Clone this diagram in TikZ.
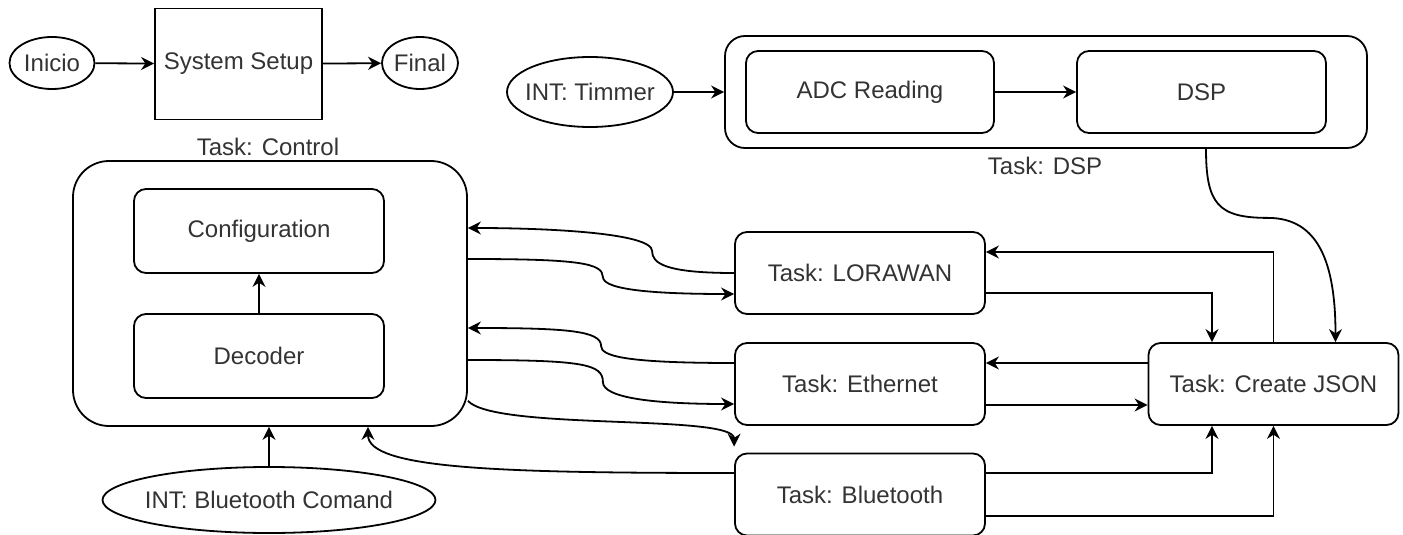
\documentclass[tikz,border=0pt]{standalone}
\usepackage{fontspec}
\setmainfont{Liberation Sans}
\usetikzlibrary{shapes.geometric, arrows.meta}

\newcommand{\ztxt}[1]{\makebox[0pt]{#1}}

\tikzset{
  every node/.style={font=\fontsize{12}{14}\selectfont, text=black!80},
  blk/.style={draw, rounded corners=6pt, minimum width=125pt, minimum height=41pt},
  oval/.style={draw, ellipse, inner sep=0pt},
  con/.style={-{Stealth[length=6.5pt,width=6.5pt]}}
}

\begin{document}
\begin{tikzpicture}[x=0.5pt,y=-0.5pt,line width=0.9pt]
  \useasboundingbox (0,0) rectangle (1403,535);

  % arranque
  \node[oval, minimum width=42.5pt, minimum height=26pt] (inicio) at (52,63) {\ztxt{Inicio}};
  \node[draw, minimum width=83.5pt, minimum height=55.5pt] (setup) at (238.5,64) {System Setup};
  \node[oval, minimum width=38pt, minimum height=26pt] (final) at (420,63) {\ztxt{Final}};
  \draw[con] (inicio) -- (setup);
  \draw[con] (setup) -- (final);

  % task DSP
  \node[oval, minimum width=83pt, minimum height=35pt] (timer) at (590,92) {\ztxt{INT: Timmer}};
  \node[draw, rounded corners=10pt, minimum width=321pt, minimum height=56pt] (dspbox) at (1046,92) {};
  \node[blk, minimum width=124pt] (adc) at (870,92) {ADC Reading};
  \node[blk, minimum width=124.5pt] (dsp) at (1201.5,92) {DSP};
  \node (dsptitle) at (1045,166) {Task: DSP};
  \draw[con] (timer) -- (dspbox);
  \draw[con] (adc) -- (dsp);

  % task control
  \node (ctrltitle) at (268,147) {Task: Control};
  \node[draw, rounded corners=18pt, minimum width=197pt, minimum height=132.5pt] (control) at (270,293.5) {};
  \node[blk, minimum height=42pt] (config) at (259,231) {Configuration};
  \node[blk, minimum height=42pt] (decoder) at (259,356) {Decoder};
  \node[oval, minimum width=166.5pt, minimum height=33pt] (btcmd) at (269,500) {\ztxt{INT: Bluetooth Comand}};
  \draw[con] (decoder) -- (config);
  \draw[con] (btcmd.north) -- (btcmd.north |- control.south);

  % comunicaciones
  \node[blk] (lora) at (860,273) {Task: LORAWAN};
  \node[blk] (eth) at (860,384) {Task: Ethernet};
  \node[blk] (bt) at (860,494.5) {Task: Bluetooth};
  \node[blk] (json) at (1273.5,384) {Task: Create JSON};

  \draw[con] ([xshift=80pt]dspbox.south) .. controls +(0,55) and +(-50,0) .. ++(62,69)
    .. controls +(50,0) and +(0,-80) .. ([xshift=31pt]json.north);
  \draw[con] ([yshift=-10pt]lora.east) -| ([xshift=-30.75pt]json.north);
  \draw[con] (json.north) |- ([yshift=10.5pt]lora.east);
  \draw[con] ([yshift=10.5pt]json.west) -- ([yshift=10.5pt]eth.east);
  \draw[con] ([yshift=-10.5pt]eth.east) -- ([yshift=-10.5pt]json.west);
  \draw[con] ([yshift=10.75pt]bt.east) -| ([xshift=-30.75pt]json.south);
  \draw[con] ([yshift=-10.75pt]bt.east) -| (json.south);

  \draw[con] (lora.west) .. controls +(-70,0) and +(0,12) .. ++(-82,-22)
    .. controls +(0,-18) and +(80,0) .. ([yshift=32.75pt]control.east);
  \draw[con] ([yshift=17.25pt]control.east) .. controls +(110,0) and +(0,-14) .. ++(135,18)
    .. controls +(0,14) and +(-70,0) .. ([yshift=-10.5pt]lora.west);
  \draw[con] ([yshift=10.5pt]eth.west) .. controls +(-110,0) and +(0,10) .. ++(-133,-17)
    .. controls +(0,-15) and +(100,0) .. ([yshift=-17.25pt]control.east);
  \draw[con] ([yshift=-33.25pt]control.east) .. controls +(115,0) and +(0,-18) .. ++(135,22)
    .. controls +(0,16) and +(-80,0) .. ([yshift=-10pt]eth.west);
  \draw[con] ([yshift=13pt]control.south east) .. controls +(28,30) and +(0,-33) .. ([yshift=3pt]bt.north west);
  \draw[con] ([yshift=10.75pt]bt.west) .. controls +(-235,0) and +(0,42) .. ([xshift=49pt]control.south);
\end{tikzpicture}
\end{document}
